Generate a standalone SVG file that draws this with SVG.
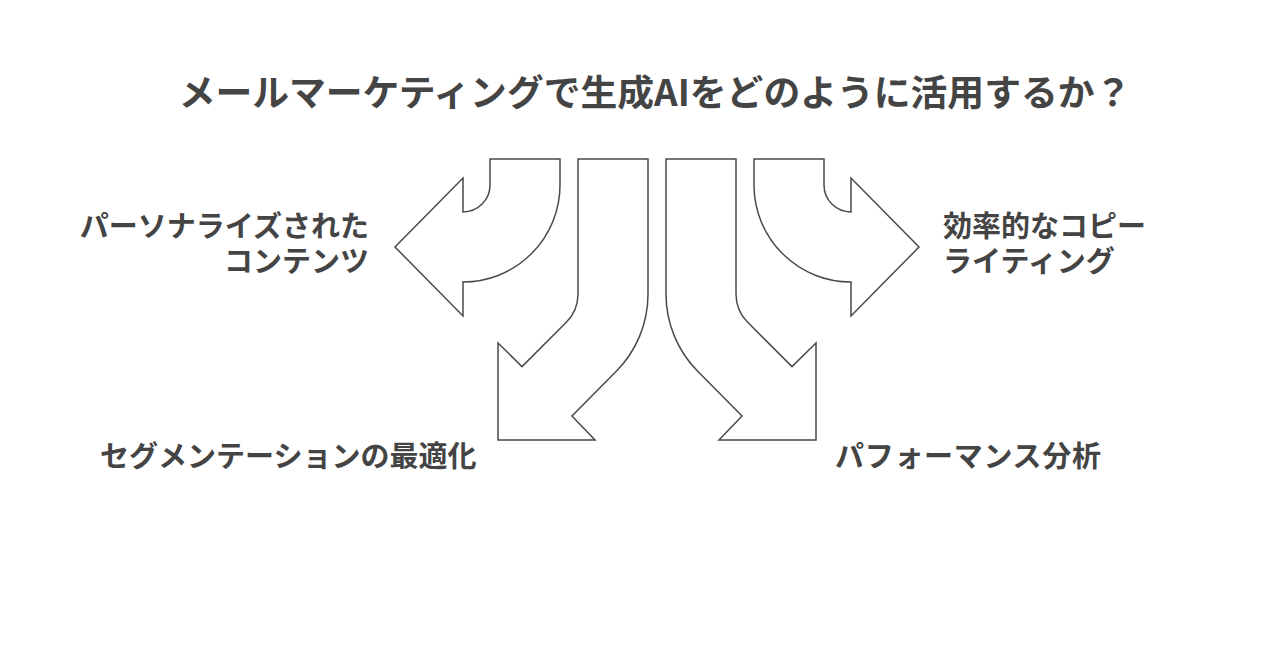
<svg xmlns="http://www.w3.org/2000/svg" width="1280" height="670" viewBox="0 0 1280 670">
<style>
.arrow{fill:#fff;stroke:#4a4a4a;stroke-width:1.5;stroke-linejoin:miter}
.t{font-family:"Noto Sans CJK JP","Noto Sans",sans-serif;font-weight:700;fill:#444}
.title{font-size:36.8px}
.lbl{font-size:29px}
</style>
<rect width="1280" height="670" fill="#fff"/>
<text id="title" class="t title" x="655" y="106" text-anchor="middle">メールマーケティングで生成AIをどのように活用するか？</text>
<g id="connectors">
<g id="arrow-personalized">
<path class="arrow" d="M490,159 L560,159 L560,185 A97,97 0 0 1 463,282 L463,316 L395,247 L463,178 L463,212 A27,27 0 0 0 490,185 Z"/>
</g>
<g id="arrow-segmentation">
<path class="arrow" d="M578,159 L648,159 L648,294 A110,110 0 0 1 615.8,371.8 L572,416 L595,440 L498,440 L498,343 L522,366.6 L566.3,322.3 A40,40 0 0 0 578,294 Z"/>
</g>
<g id="arrow-performance">
<path class="arrow" d="M736,159 L666,159 L666,294 A110,110 0 0 0 698.2,371.8 L742,416 L719,440 L816,440 L816,343 L792,366.6 L747.7,322.3 A40,40 0 0 1 736,294 Z"/>
</g>
<g id="arrow-copywriting">
<path class="arrow" d="M824,159 L754,159 L754,185 A97,97 0 0 0 851,282 L851,316 L919,247 L851,178 L851,212 A27,27 0 0 1 824,185 Z"/>
</g>
</g>
<g id="node-personalized">
<text class="t lbl" text-anchor="end"><tspan x="369" y="237">パーソナライズされた</tspan><tspan x="369" y="272">コンテンツ</tspan></text>
</g>
<g id="node-copywriting">
<text class="t lbl"><tspan x="943" y="237">効率的なコピー</tspan><tspan x="943" y="272">ライティング</tspan></text>
</g>
<g id="node-segmentation">
<text class="t lbl" x="100" y="467">セグメンテーションの最適化</text>
</g>
<g id="node-performance">
<text class="t lbl" x="835" y="467" textLength="266">パフォーマンス分析</text>
</g>
</svg>
